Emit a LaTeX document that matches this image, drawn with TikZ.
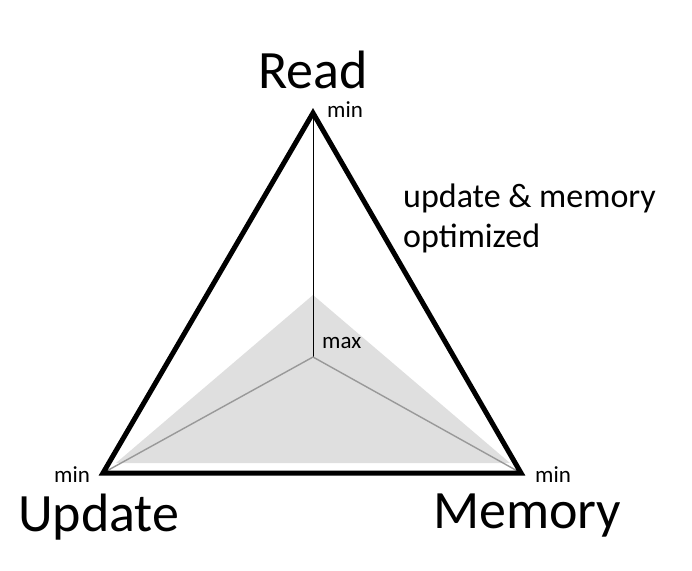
\documentclass[tikz,border=0pt]{standalone}
\usepackage{fontspec}
\setmainfont{Carlito}
\usetikzlibrary{positioning}

\begin{document}
\begin{tikzpicture}[
    x=1pt, y=-1pt,
    corner/.style={font=\fontsize{54}{62}\selectfont, inner sep=0pt},
    tag/.style={font=\fontsize{23}{27}\selectfont, inner sep=0pt},
    note/.style={font=\fontsize{34}{40}\selectfont, inner sep=0pt, align=left},
    frame/.style={line width=5pt, line join=miter},
    axis/.style={line width=1.4pt, draw=gray!80}
]
   \useasboundingbox (0,0) rectangle (692,570);

   % corners of the triangle and its centre
   \coordinate (R) at (313,113);
   \coordinate (U) at (103,473);
   \coordinate (M) at (521,473);
   \coordinate (C) at (313,357);

   % shaded region
   \fill[gray!25] (313,295) -- (116,463) -- (510,463) -- cycle;

   % axes from the centre
   \draw[line width=1pt] (C) -- (R);
   \draw[axis] (C) -- (U);
   \draw[axis] (C) -- (M);

   % outer triangle
   \draw[frame] (R) -- (U) -- (M) -- cycle;

   % labels
   \node[corner, anchor=base] (read) at (313,88) {Read};
   \node[corner, anchor=base west] (update) at (18,531) {Update};
   \node[corner, anchor=base west] (memory) at (433,528) {Memory};
   \node[tag, anchor=base west] (minR) at (327,117) {min};
   \node[tag, anchor=base west] (minU) at (54,482) {min};
   \node[tag, anchor=base west] (minM) at (535,482) {min};
   \node[tag, anchor=base west] (max) at (322,348) {max};
   \node[note, anchor=base west] (opt) at (403,247) {update \& memory\\optimized};
\end{tikzpicture}
\end{document}
